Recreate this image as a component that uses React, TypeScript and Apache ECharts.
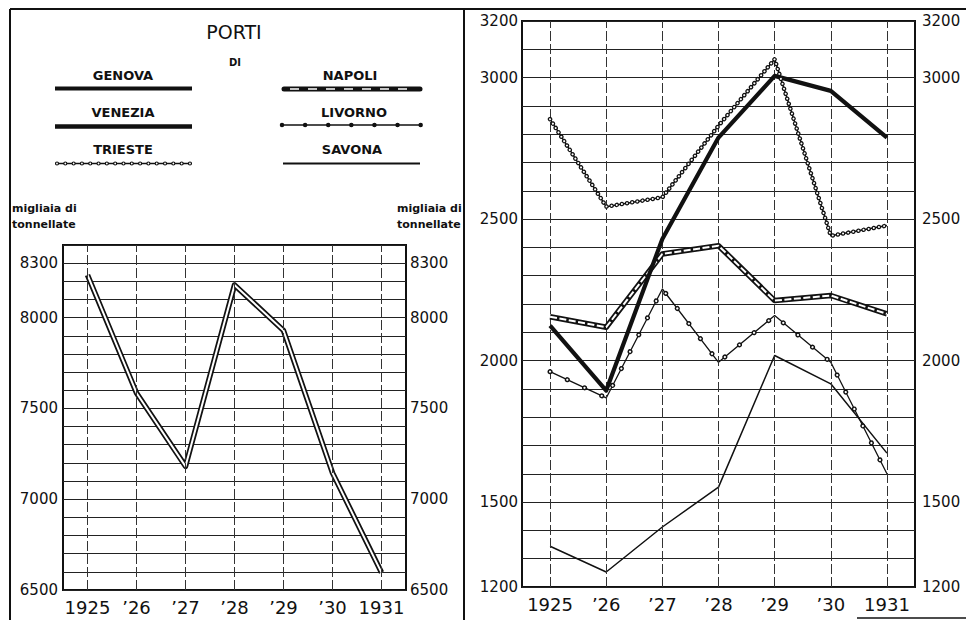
import React, { useEffect, useRef } from "react";
import * as echarts from "echarts";

const years = ["1925", "’26", "’27", "’28", "’29", "’30", "1931"];
const genova = [8235, 7585, 7181, 8180, 7929, 7145, 6596];
const venezia = [2124, 1894, 2430, 2788, 3006, 2953, 2788];
const trieste = [2853, 2544, 2577, 2830, 3065, 2441, 2477];
const napoli = [2155, 2118, 2377, 2406, 2212, 2230, 2165];
const livorno = [1961, 1868, 2253, 1994, 2159, 1994, 1600];
const savona = [1344, 1253, 1412, 1553, 2018, 1918, 1673];
const leftTicks = [8300, 8000, 7500, 7000, 6500];
const rightTicks = [3200, 3000, 2500, 2000, 1500, 1200];

const FONT = "DejaVu Sans";
const INK = "#111";

function vLines() {
  return {
    silent: true,
    symbol: "none",
    label: { show: false },
    lineStyle: { type: [10, 3], color: "#333", width: 1 },
    data: years.map((y) => ({ xAxis: y })),
  };
}

function line(name: string, data: number[], xi: number, yi: number, ls: any, z: number, extra: any = {}) {
  return {
    type: "line",
    name,
    data,
    xAxisIndex: xi,
    yAxisIndex: yi,
    symbol: "none",
    showSymbol: false,
    silent: true,
    z,
    lineStyle: { color: INK, join: "round", ...ls },
    ...extra,
  };
}

function legendText(text: string, x: number, y: number, size = 13, weight: any = "bold") {
  return {
    type: "text",
    x,
    y,
    style: {
      text,
      fill: INK,
      font: `${weight} ${size}px "${FONT}"`,
      align: "center",
      verticalAlign: "middle",
    },
  };
}

function gLine(x1: number, y1: number, x2: number, y2: number, style: any) {
  return { type: "line", shape: { x1, y1, x2, y2 }, style: { stroke: INK, ...style } };
}

export default function App() {
  const ref = useRef<HTMLDivElement>(null);
  useEffect(() => {
    if (!ref.current) return;
    const chart = echarts.init(ref.current, null, { renderer: "svg" });
    const xAxisBase = {
      type: "category",
      data: years,
      boundaryGap: true,
      axisLine: { show: false },
      axisTick: { show: false },
      splitLine: { show: false },
      axisLabel: { fontSize: 18, color: INK, margin: 8, fontFamily: FONT, interval: 0, hideOverlap: false },
    };
    const yBase = (gi: number, min: number, max: number, ticks: number[], pos: string, margin: number, split: boolean) => ({
      type: "value",
      gridIndex: gi,
      min,
      max,
      interval: 100,
      position: pos,
      axisLine: { show: false },
      axisTick: { show: false },
      splitLine: { show: split, lineStyle: { color: "#222", width: 1 } },
      axisLabel: {
        fontSize: 15,
        color: INK,
        margin,
        fontFamily: FONT,
        formatter: (v: number) => (ticks.includes(v) ? String(v) : ""),
      },
    });

    const option: any = {
      animation: false,
      backgroundColor: "#fff",
      grid: [
        { left: 63, top: 245, width: 343, height: 345, show: true, borderColor: INK, borderWidth: 2, backgroundColor: "transparent" },
        { left: 522, top: 21, width: 393, height: 566, show: true, borderColor: INK, borderWidth: 2, backgroundColor: "transparent" },
      ],
      xAxis: [
        { ...xAxisBase, gridIndex: 0 },
        { ...xAxisBase, gridIndex: 1 },
      ],
      yAxis: [
        yBase(0, 6500, 8400, leftTicks, "left", 5, true),
        yBase(0, 6500, 8400, leftTicks, "right", 4, false),
        yBase(1, 1200, 3200, rightTicks, "left", 4, true),
        yBase(1, 1200, 3200, rightTicks, "right", 7, false),
      ],
      series: [
        // left chart: Genova (double line)
        line("GENOVA", genova, 0, 0, { width: 5.5 }, 3, { markLine: vLines() }),
        line("GENOVA", genova, 0, 0, { width: 2, color: "#fff" }, 4),
        // right chart
        line("SAVONA", savona, 1, 2, { width: 1.5 }, 3, { markLine: vLines() }),
        line("LIVORNO", livorno, 1, 2, { width: 1.3 }, 4),
        line("LIVORNO", livorno, 1, 2, { width: 5, type: [0.01, 19], cap: "round" }, 5),
        line("LIVORNO", livorno, 1, 2, { width: 2.2, type: [0.01, 19], cap: "round", color: "#fff" }, 6),
        line("NAPOLI", napoli, 1, 2, { width: 5.5 }, 7),
        line("NAPOLI", napoli, 1, 2, { width: 2, color: "#fff", type: [7, 2.5] }, 8),
        line("VENEZIA", venezia, 1, 2, { width: 4.2 }, 9),
        line("TRIESTE", trieste, 1, 2, { width: 1.5 }, 10),
        line("TRIESTE", trieste, 1, 2, { width: 4.5, type: [0.01, 5.2], cap: "round" }, 11),
        line("TRIESTE", trieste, 1, 2, { width: 2, type: [0.01, 5.2], cap: "round", color: "#fff" }, 12),
      ],
      graphic: [
        // frame
        gLine(10, 9, 966, 9, { lineWidth: 2 }),
        gLine(10, 9, 10, 620, { lineWidth: 2 }),
        gLine(464, 9, 464, 620, { lineWidth: 2 }),
        gLine(857, 618, 966, 618, { lineWidth: 1.5 }),
        // title
        legendText("PORTI", 234, 32, 19, "normal"),
        legendText("DI", 235, 62, 10, "bold"),
        // left legend
        legendText("GENOVA", 123, 75.5),
        gLine(55, 88.5, 192, 88.5, { lineWidth: 4 }),
        legendText("VENEZIA", 123, 112),
        gLine(55, 126.5, 192, 126.5, { lineWidth: 4.5 }),
        legendText("TRIESTE", 123, 149.5),
        gLine(57, 163.5, 190, 163.5, { lineWidth: 1.5 }),
        gLine(57, 163.5, 190, 163.5, { lineWidth: 4.2, lineDash: [0.01, 8.3], lineCap: "round" }),
        gLine(57, 163.5, 190, 163.5, { lineWidth: 1.8, lineDash: [0.01, 8.3], lineCap: "round", stroke: "#fff" }),
        // right legend
        legendText("NAPOLI", 350, 75.5),
        gLine(284, 89, 420, 89, { lineWidth: 5, lineCap: "round" }),
        gLine(290, 89, 416, 89, { lineWidth: 1.6, lineDash: [9, 9], stroke: "#fff" }),
        legendText("LIVORNO", 354, 112),
        gLine(282, 125, 421, 125, { lineWidth: 1.5 }),
        gLine(282, 125, 421, 125, { lineWidth: 4.5, lineDash: [0.01, 23.1], lineCap: "round" }),
        legendText("SAVONA", 352, 149.5),
        gLine(283, 163.5, 420, 163.5, { lineWidth: 2 }),
        // units
        {
          type: "text",
          x: 12,
          y: 200,
          style: { text: "migliaia di\ntonnellate", fill: INK, font: `bold 11px "${FONT}"`, lineHeight: 16 },
        },
        {
          type: "text",
          x: 397,
          y: 200,
          style: { text: "migliaia di\ntonnellate", fill: INK, font: `bold 11px "${FONT}"`, lineHeight: 16 },
        },
      ],
    };
    chart.setOption(option);
    return () => chart.dispose();
  }, []);
  return (
    <div
      ref={ref}
      style={{ position: "fixed", left: 0, top: 0, width: 966, height: 620, background: "#fff" }}
    />
  );
}
